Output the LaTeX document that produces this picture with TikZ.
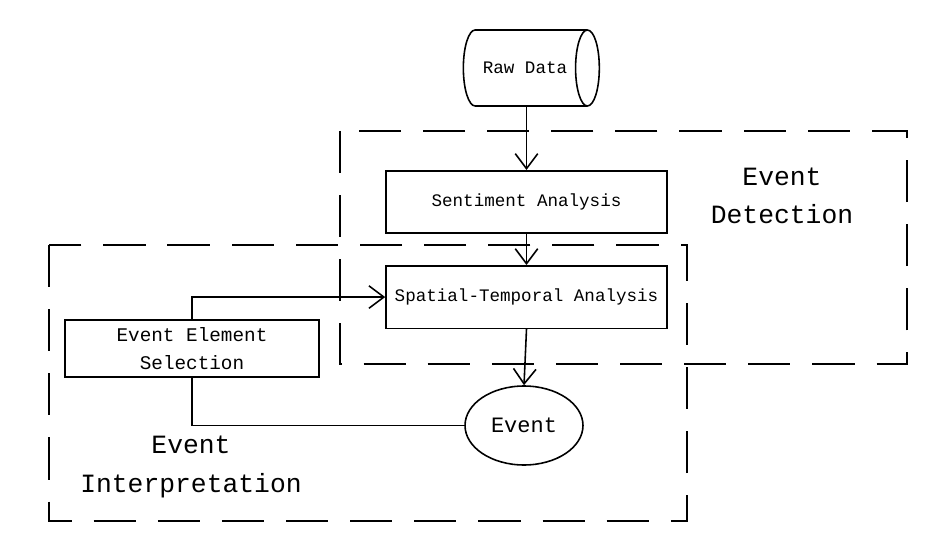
\documentclass[tikz,border=0pt]{standalone}
\usepackage{fontspec}
\setmainfont{Liberation Mono}
\usetikzlibrary{positioning,shapes.geometric,arrows.meta}

\begin{document}
\begin{tikzpicture}[
  x=0.02cm, y=-0.02cm,
  boxstyle/.style={
        draw,
        line width=0.9pt,
        rectangle,
        inner sep=0pt,
        minimum width=5.62cm,
        minimum height=1.25cm,
        font=\fontsize{10}{12}\selectfont
  },
  regionstyle/.style={
        draw,
        line width=1.4pt,
        dash pattern=on 24pt off 12.5pt
  },
  labelstyle/.style={
        align=center,
        font=\fontsize{15}{22}\selectfont
  },
  arr/.style={
        line width=0.9pt,
        -{Straight Barb[length=3mm,width=4.5mm,line width=0.9pt]}
  }
]

    \useasboundingbox (0,0) rectangle (936,550);

    % regions
    \draw[regionstyle] (340,131) rectangle (907,364);
    \draw[regionstyle] (49,245) rectangle (687,521);

    \node[labelstyle] (det_label) at (782,196) {Event\\Detection};
    \node[labelstyle] (int_label) at (191,467) {Event\\Interpretation};

    % nodes
    \node[draw, line width=0.9pt, cylinder, aspect=2, inner sep=0pt,
          minimum width=1.52cm, minimum height=2.72cm,
          font=\fontsize{10}{12}\selectfont] (raw) at (525,68) {Raw Data};

    \node[boxstyle] (sent) at (526.5,202) {Sentiment Analysis};
    \node[boxstyle, below=0.62cm of sent] (spat) {Spatial-Temporal Analysis};

    \node[boxstyle, minimum width=5.08cm, minimum height=1.14cm,
          align=center, font=\fontsize{11}{16}\selectfont]
          (ees) at (192,348.5) {Event Element\\Selection};

    \node[draw, ellipse, line width=0.9pt, inner sep=0pt,
          minimum width=2.36cm, minimum height=1.58cm,
          font=\fontsize{12.5}{14}\selectfont] (event) at (524,425.5) {Event};

    % connectors
    \draw[arr] (raw.south -| sent.north) -- (sent.north);
    \draw[arr] (sent.south) -- (spat.north);
    \draw[arr] (spat.south) -- (event.north);
    \draw[arr] (ees.north) |- (spat.west);
    \draw[line width=0.9pt] (ees.south) |- (event.west);
\end{tikzpicture}
\end{document}
